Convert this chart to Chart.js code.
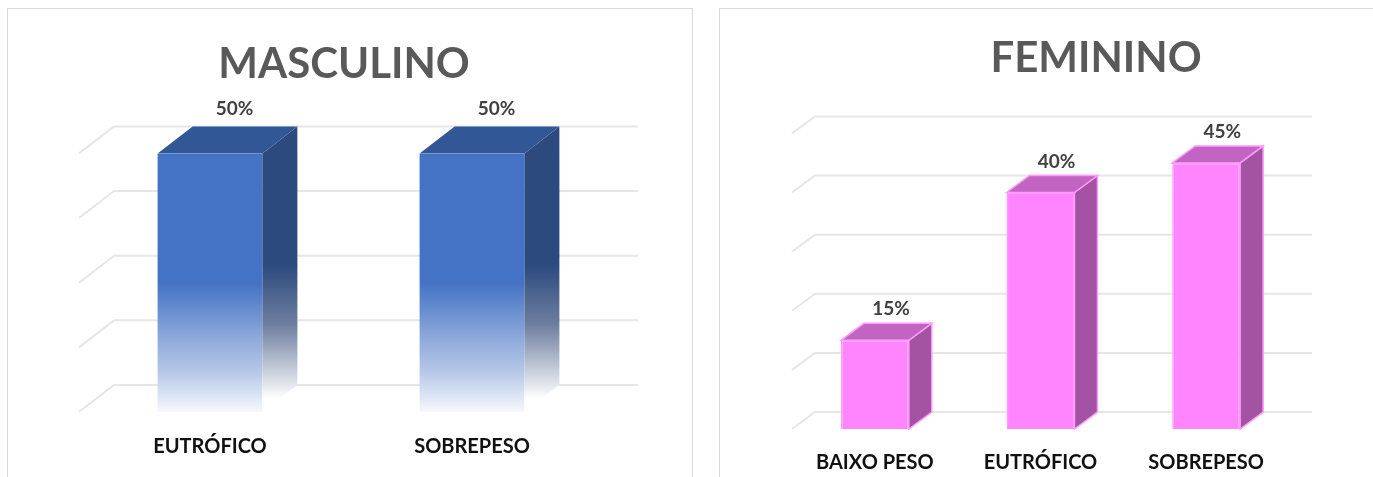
<!DOCTYPE html>
<html>
<head>
<meta charset="utf-8">
<script src="https://cdn.jsdelivr.net/npm/chart.js@4"></script>
<style>
body { margin: 0; background: #fff; width: 1373px; height: 477px; overflow: hidden; position: relative; }
.panel { position: absolute; border: 1px solid #D9D9D9; }
canvas { position: absolute; }
</style>
</head>
<body>
<div class="panel" style="left:7px;top:8px;width:684px;height:500px"></div>
<div class="panel" style="left:719px;top:8px;width:700px;height:500px"></div>
<canvas id="MascChart" width="683" height="491" style="left:8px;top:9px"></canvas>
<canvas id="FemChart" width="700" height="490" style="left:720px;top:9px"></canvas>
<script>
var mascLabels = ['EUTRÓFICO', 'SOBREPESO'];
var mascValues = [50, 50];
var femLabels = ['BAIXO PESO', 'EUTRÓFICO', 'SOBREPESO'];
var femValues = [15, 40, 45];

// draws the back wall grid, the top and side of each bar and the % labels
var bar3d = {
    id: 'bar3d',
    beforeDatasetsDraw: function(chart, args, opts) {
        var ctx = chart.ctx, area = chart.chartArea, y = chart.scales.y;
        ctx.save();
        ctx.strokeStyle = '#E6E6E6';
        ctx.lineWidth = 2;
        y.ticks.forEach(function(t) {
            var py = y.getPixelForValue(t.value);
            ctx.beginPath();
            ctx.moveTo(area.left, py);
            ctx.lineTo(area.left + opts.dx, py - opts.dy);
            ctx.lineTo(area.right + opts.dx, py - opts.dy);
            ctx.stroke();
        });
        ctx.restore();
    },
    afterDatasetsDraw: function(chart, args, opts) {
        var ctx = chart.ctx;
        var meta = chart.getDatasetMeta(0);
        var values = chart.data.datasets[0].data;
        ctx.save();
        meta.data.forEach(function(bar, i) {
            var p = bar.getProps(['x', 'y', 'base', 'width'], true);
            var l = p.x - p.width / 2, r = p.x + p.width / 2;
            var dx = opts.dx, dy = opts.dy;

            // side face
            var side = opts.side;
            if (opts.fade) {
                var h = p.base - p.y;
                side = ctx.createLinearGradient(0, p.y + h * 0.43, 0, p.y + h * 0.95);
                side.addColorStop(0, opts.side);
                side.addColorStop(0.45, '#6E7FA0');
                side.addColorStop(1, '#FFFFFF');
            }
            ctx.beginPath();
            ctx.moveTo(r, p.y);
            ctx.lineTo(r + dx, p.y - dy);
            ctx.lineTo(r + dx, p.base - dy);
            ctx.lineTo(r, p.base);
            ctx.closePath();
            ctx.fillStyle = side;
            ctx.fill();
            if (opts.stroke) { ctx.strokeStyle = opts.stroke; ctx.lineWidth = 1.5; ctx.stroke(); }

            // top face
            ctx.beginPath();
            ctx.moveTo(l, p.y);
            ctx.lineTo(l + dx, p.y - dy);
            ctx.lineTo(r + dx, p.y - dy);
            ctx.lineTo(r, p.y);
            ctx.closePath();
            ctx.fillStyle = opts.top;
            ctx.fill();
            if (opts.stroke) ctx.stroke();

            // value label
            ctx.fillStyle = '#404040';
            ctx.font = 'bold 19px Lato';
            ctx.textAlign = 'center';
            ctx.textBaseline = 'alphabetic';
            ctx.fillText(values[i] + '%', p.x + dx * 0.7, p.y - dy - opts.gap);
        });
        ctx.restore();
    }
};

function blueFront(c) {
    var area = c.chart.chartArea;
    if (!area) return '#4472C4';
    var g = c.chart.ctx.createLinearGradient(0, area.top, 0, area.bottom);
    g.addColorStop(0, '#4472C4');
    g.addColorStop(0.5, '#4472C4');
    g.addColorStop(0.7, '#89A6DA');
    g.addColorStop(0.85, '#B8C9E9');
    g.addColorStop(1, '#F6F8FC');
    return g;
}

function showChart(id, labels, datas, opts) {
    var ctx = document.getElementById(id).getContext('2d');
    return new Chart(ctx, {
        type: 'bar',
        data: {
            labels: labels,
            datasets: [{
                data: datas,
                backgroundColor: opts.front,
                borderColor: opts.stroke || 'transparent',
                borderWidth: opts.stroke ? 1.5 : 0,
                categoryPercentage: 1,
                barPercentage: opts.barPct
            }]
        },
        options: {
            responsive: false,
            animation: false,
            events: [],
            layout: { padding: opts.padding },
            plugins: {
                legend: { display: false },
                tooltip: { enabled: false },
                title: {
                    display: true,
                    text: opts.title,
                    color: '#595959',
                    font: { family: 'Lato', size: 42, weight: 'bold' },
                    padding: opts.titlePad
                },
                bar3d: { dx: opts.dx, dy: opts.dy, top: opts.top, side: opts.side, stroke: opts.stroke, fade: opts.fade, gap: opts.gap }
            },
            scales: {
                x: {
                    grid: { display: false, drawTicks: false },
                    border: { display: false },
                    ticks: { color: '#111', padding: opts.tickPad, font: { family: 'Lato', size: 20, weight: 'bold' } }
                },
                y: {
                    position: 'right',
                    min: 0,
                    max: 50,
                    grid: { display: false, drawTicks: false },
                    border: { display: false },
                    ticks: { display: false, stepSize: opts.step },
                    afterFit: function(scale) { scale.width = opts.gutter; }
                }
            }
        },
        plugins: [bar3d]
    });
}

showChart('MascChart', mascLabels, mascValues, {
    title: 'MASCULINO', front: blueFront, top: '#325796', side: '#2C4A7E', fade: true,
    dx: 35, dy: 27, gap: 11, barPct: 0.4, step: 12.5,
    padding: { left: 71, right: 82, top: 0, bottom: 18 }, gutter: 6,
    titlePad: { top: 30, bottom: 64 }, tickPad: 23
});

showChart('FemChart', femLabels, femValues, {
    title: 'FEMININO', front: '#FF85FF', top: '#C264C1', side: '#A453A3', stroke: '#FF9AFF', fade: false,
    dx: 23, dy: 17, gap: 8, barPct: 0.41, step: 10,
    padding: { left: 72, right: 20, top: 0, bottom: 2 }, gutter: 111,
    titlePad: { top: 24, bottom: 50 }, tickPad: 22
});
</script>
</body>
</html>
